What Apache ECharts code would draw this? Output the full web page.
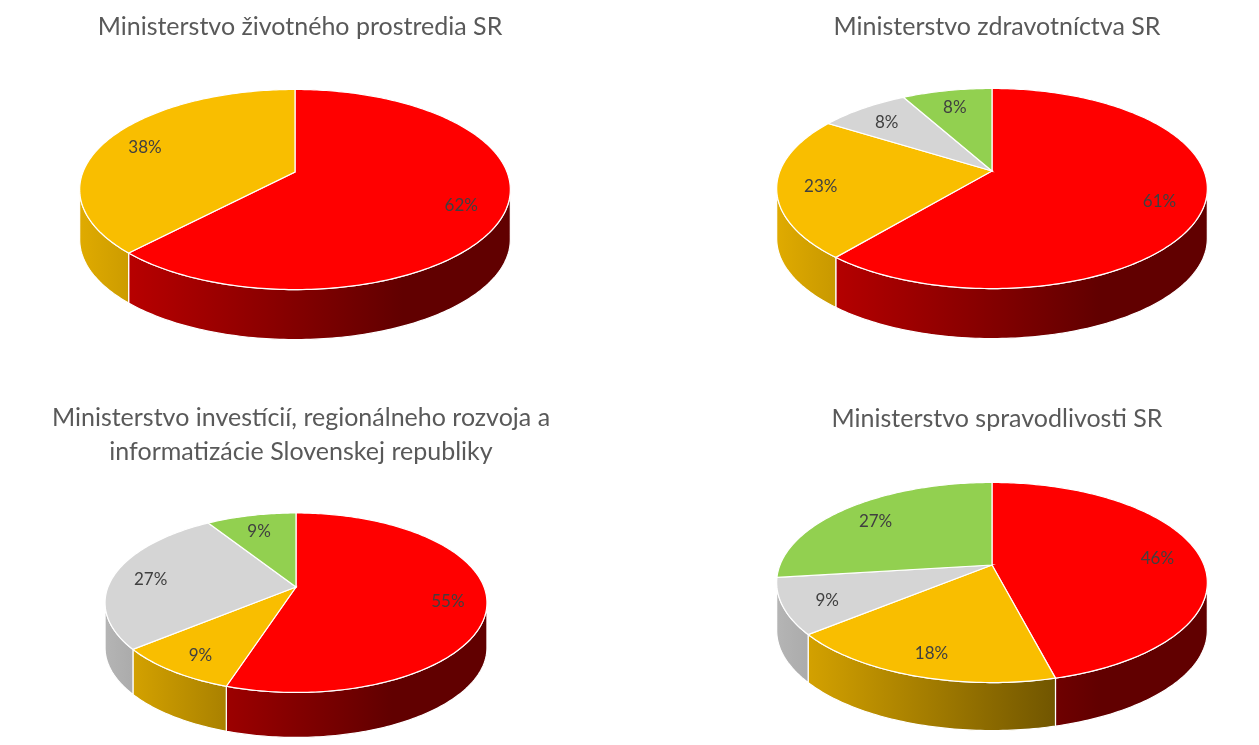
<!DOCTYPE html>
<html><head><meta charset="utf-8">
<script src="https://cdn.jsdelivr.net/npm/echarts@6/dist/echarts.min.js"></script>
<style>html,body{margin:0;padding:0;background:#fff}#c{width:1259px;height:745px}</style>
</head><body><div id="c"></div>
<script>
// ---- data ----
const sliceKeys = ['red', 'yellow', 'gray', 'green'];
const titles = [
  'Ministerstvo životného prostredia SR',
  'Ministerstvo zdravotníctva SR',
  'Ministerstvo investícií, regionálneho rozvoja a\ninformatizácie Slovenskej republiky',
  'Ministerstvo spravodlivosti SR'
];
const valuesMZP = [62, 38, 0, 0];
const valuesMZ = [61, 23, 8, 8];
const valuesMIRRI = [55, 9, 27, 9];
const valuesMS = [46, 18, 9, 27];
const pieValues = [valuesMZP, valuesMZ, valuesMIRRI, valuesMS];

// ---- styling / layout ----
const baseColors = { red: [255, 0, 0], yellow: [249, 190, 0], gray: [213, 213, 213], green: [146, 208, 80] };
const sideLight = { red: 0.78, yellow: 0.9, gray: 0.85, green: 0.85 };
const sideDark = 0.38;
const persp = 0.175;
const labelRadius = 0.8;
const pieLayout = [
  { cx: 295, ay: 172, R: 212, Ry: 97, depth: 50, tx: 295, ty: 5 },
  { cx: 992, ay: 171, R: 212, Ry: 97, depth: 50, tx: 992, ty: 5 },
  { cx: 296, ay: 587, R: 188, Ry: 87, depth: 45, tx: 296, ty: 396 },
  { cx: 992, ay: 565, R: 212, Ry: 97, depth: 48, tx: 992, ty: 397 }
];

function rgb(c, f) {
  return 'rgb(' + c.map(x => Math.round(x * f)).join(',') + ')';
}

function proj(L, deg, f, dz) {
  const t = deg * Math.PI / 180;
  const u = Math.sin(t), v = -Math.cos(t);
  const s = 1 / (1 - persp * f * v);
  return [L.cx + L.R * f * u * s, L.ay + L.Ry * f * v * s + (dz || 0)];
}

function makeRender(pi) {
  return function (params, api) {
    const vals = pieValues[pi];
    const L = pieLayout[pi];
    const total = vals.reduce((a, b) => a + b, 0);
    const i = params.dataIndex;
    const v = vals[i];
    if (!v) return { type: 'group', children: [] };
    let start = 0;
    for (let k = 0; k < i; k++) start += vals[k];
    const a0 = start / total * 360, a1 = (start + v) / total * 360;
    const key = sliceKeys[i];
    const base = baseColors[key];
    const children = [];
    // side wall
    const thL = Math.acos(-persp) * 180 / Math.PI;
    const thR = 360 - thL;
    const s0 = Math.max(a0, thL), s1 = Math.min(a1, thR);
    if (s1 > s0) {
      const top = [], bot = [];
      const n = Math.max(2, Math.ceil((s1 - s0) / 1));
      for (let k = 0; k <= n; k++) {
        const d = s0 + (s1 - s0) * k / n;
        top.push(proj(L, d, 1, 0));
        bot.push(proj(L, d, 1, L.depth));
      }
      const pts = top.concat(bot.reverse());
      const grad = new echarts.graphic.LinearGradient(L.cx - L.R * 1.02, 0, L.cx + L.R * 1.02, 0, [
        { offset: 0, color: rgb(base, sideLight[key]) },
        { offset: 0.75, color: rgb(base, sideDark) },
        { offset: 1, color: rgb(base, sideDark) }
      ], true);
      children.push({ type: 'polygon', shape: { points: pts }, style: { fill: grad, stroke: '#ffffff', lineWidth: 1.2 } });
    }
    // top face
    const topPts = [[L.cx, L.ay]];
    const n2 = Math.max(2, Math.ceil((a1 - a0) / 1));
    for (let k = 0; k <= n2; k++) topPts.push(proj(L, a0 + (a1 - a0) * k / n2, 1, 0));
    children.push({ type: 'polygon', shape: { points: topPts }, style: { fill: rgb(base, 1), stroke: '#ffffff', lineWidth: 1.2 } });
    // label
    const lp = proj(L, (a0 + a1) / 2, labelRadius, 0);
    children.push({
      type: 'text', z2: 10,
      style: { text: Math.round(v / total * 100) + '%', x: lp[0], y: lp[1] + 3, align: 'center', verticalAlign: 'middle',
        fill: '#404040', fontSize: 17, fontFamily: 'Lato' }
    });
    return { type: 'group', children: children };
  };
}

const chart = echarts.init(document.getElementById('c'), null, { renderer: 'canvas' });
chart.setOption({
  animation: false,
  backgroundColor: '#ffffff',
  title: titles.map((t, k) => ({
    text: t, left: pieLayout[k].tx, top: pieLayout[k].ty, textAlign: 'center',
    textStyle: { fontFamily: 'Lato', fontSize: 25, fontWeight: 'normal', color: '#595959', lineHeight: 34 }
  })),
  series: pieValues.map((vals, k) => ({
    type: 'custom', coordinateSystem: 'none', name: titles[k],
    renderItem: makeRender(k),
    data: vals
  }))
});
</script>
</body></html>
